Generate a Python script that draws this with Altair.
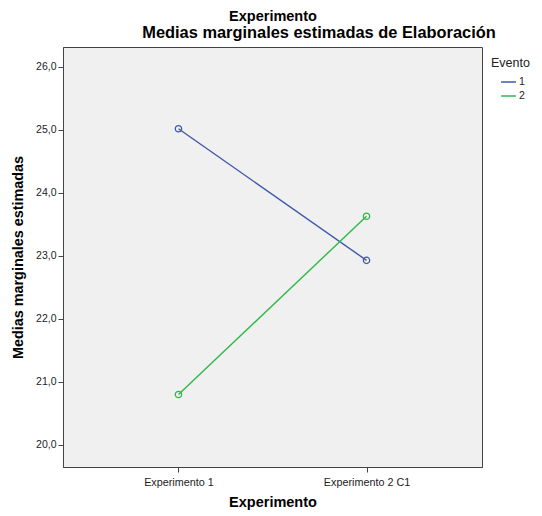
import altair as alt
import pandas as pd

# ---- data ----
experimentos = ["Experimento 1", "Experimento 2 C1"]
eventos = ["1", "2"]
medias_evento_1 = [25.02, 22.93]
medias_evento_2 = [20.80, 23.63]
colores = ["#3E58AC", "#2EB848"]
y_ticks = [20, 21, 22, 23, 24, 25, 26]

rows = []
for ev, vals in zip(eventos, [medias_evento_1, medias_evento_2]):
    for name, v in zip(experimentos, vals):
        rows.append({"Evento": ev, "Experimento": name, "Media": v})
df = pd.DataFrame(rows)

FONT = "Liberation Sans"

x_enc = alt.X(
    "Experimento:N",
    sort=experimentos,
    scale=alt.Scale(type="point", domain=experimentos, padding=0.614),
    axis=alt.Axis(
        title="Experimento", grid=False, labelAngle=0,
        tickSize=5, labelPadding=4, titlePadding=9,
        labelFontSize=10.8, titleFontSize=14.5, titleFontWeight="bold",
        labelColor="#222", titleColor="#000", domainColor="#444", tickColor="#444",
        labelFont=FONT, titleFont=FONT,
    ),
)
y_enc = alt.Y(
    "Media:Q",
    scale=alt.Scale(domain=[19.65, 26.317], nice=False, zero=False),
    axis=alt.Axis(
        values=y_ticks,
        labelExpr="replace(format(datum.value, '.1f'), '.', ',')",
        title="Medias marginales estimadas", grid=False,
        tickSize=5, labelPadding=2, titlePadding=10,
        labelFontSize=10.5, titleFontSize=14.4, titleFontWeight="bold",
        labelColor="#222", titleColor="#000", domainColor="#444", tickColor="#444",
        labelFont=FONT, titleFont=FONT,
    ),
)
color_enc = alt.Color(
    "Evento:N",
    scale=alt.Scale(domain=eventos, range=colores),
    legend=alt.Legend(
        title="Evento", orient="none", legendX=428, legendY=10,
        symbolType="stroke", symbolSize=220, symbolStrokeWidth=1.5,
        symbolOffset=9, labelOffset=2, padding=0, rowPadding=0,
        titleFontSize=12.5, titleFontWeight="normal", labelFontSize=10.5,
        titleColor="#222", labelColor="#222", titleFont=FONT, labelFont=FONT,
        titlePadding=4,
    ),
)

base = alt.Chart(df).encode(x=x_enc, y=y_enc, color=color_enc)
lines = base.mark_line(strokeWidth=1.4)
points = base.mark_point(shape="circle", filled=False, size=40, strokeWidth=1.3, opacity=1)

top_text = alt.Chart(pd.DataFrame({"t": ["Experimento"]})).mark_text(
    font=FONT, fontSize=14.5, fontWeight="bold", baseline="alphabetic", align="center", color="#000"
).encode(text="t:N", x=alt.value(210), y=alt.value(-26))

title_text = alt.Chart(pd.DataFrame({"t": ["Medias marginales estimadas de Elaboración"]})).mark_text(
    font=FONT, fontSize=16.4, fontWeight="bold", baseline="alphabetic", align="center", color="#000"
).encode(text="t:N", x=alt.value(256), y=alt.value(-9))

chart = alt.layer(lines, points, top_text, title_text).properties(
    width=419, height=420,
    autosize=alt.AutoSizeParams(type="none"),
    padding={"left": 55, "top": 39, "right": 52, "bottom": 48},
).configure_view(fill="#F0F0F0", stroke="#444", strokeWidth=1)

chart.save("out.html", embed_options={"renderer": "svg", "actions": False})
